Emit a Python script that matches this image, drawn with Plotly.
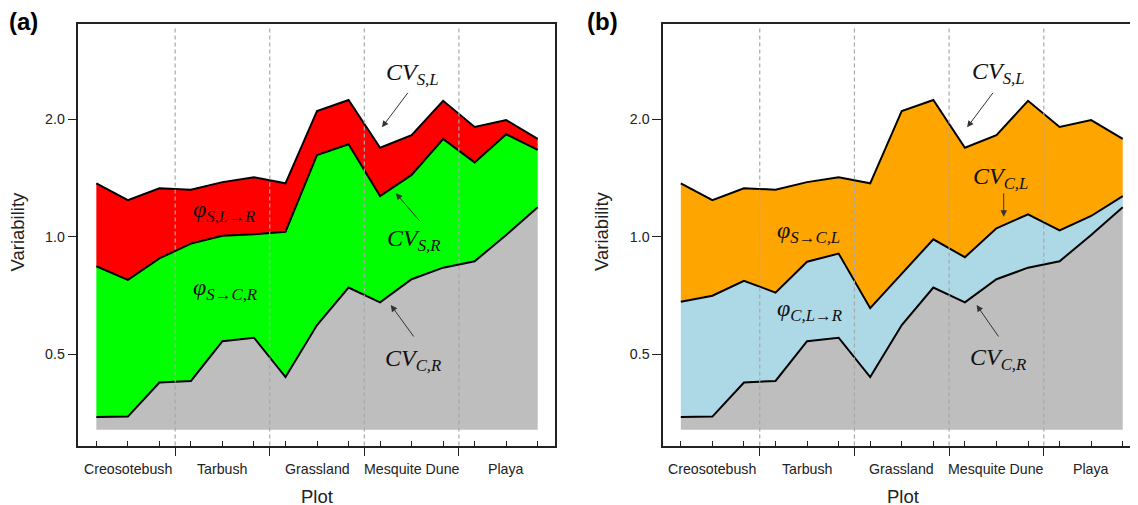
import plotly.graph_objects as go

# ---------------- data ----------------
PLOT_INDEX = list(range(1, 16))
GROUP_NAMES = ["Creosotebush", "Tarbush", "Grassland", "Mesquite Dune", "Playa"]
GROUP_CENTERS = [2, 5, 8, 11, 14]
GROUP_BOUNDS = [3.5, 6.5, 9.5, 12.5]

CV_S_L = [1.37, 1.24, 1.33, 1.32, 1.38, 1.42, 1.37, 2.10, 2.24, 1.69, 1.82, 2.23, 1.91, 1.99, 1.78]
CV_S_R = [0.84, 0.775, 0.88, 0.96, 1.005, 1.015, 1.03, 1.62, 1.725, 1.27, 1.44, 1.78, 1.55, 1.83, 1.67]
CV_C_R = [0.345, 0.346, 0.423, 0.427, 0.54, 0.551, 0.437, 0.594, 0.741, 0.679, 0.778, 0.833, 0.865, 1.01, 1.19]
CV_C_L = [0.681, 0.706, 0.771, 0.719, 0.863, 0.905, 0.656, 0.803, 0.985, 0.886, 1.051, 1.141, 1.038, 1.13, 1.271]
BASELINE = [0.32] * 15

Y_TICKS = [0.5, 1.0, 2.0]
Y_TICK_TEXT = ["0.5", "1.0", "2.0"]

GRAY = "#BEBEBE"
GREEN = "#00FF00"
RED = "#FF0000"
ORANGE = "#FFA500"
LIGHTBLUE = "#ADD8E6"

W, H = 1138, 505
OFF = 8  # page body margin


def fx(px):
    return (px - OFF) / W


def fy(py):
    return 1 - (py - OFF) / H


fig = go.Figure()


def add_panel(xa, ya, mid, mid_color, top_color):
    fig.add_trace(go.Scatter(x=PLOT_INDEX, y=BASELINE, mode="lines",
                             line=dict(width=0, color=GRAY), xaxis=xa, yaxis=ya,
                             hoverinfo="skip", showlegend=False))
    fig.add_trace(go.Scatter(x=PLOT_INDEX, y=CV_C_R, mode="lines", fill="tonexty",
                             fillcolor=GRAY, line=dict(width=2, color="black"),
                             xaxis=xa, yaxis=ya, showlegend=False))
    fig.add_trace(go.Scatter(x=PLOT_INDEX, y=mid, mode="lines", fill="tonexty",
                             fillcolor=mid_color, line=dict(width=2, color="black"),
                             xaxis=xa, yaxis=ya, showlegend=False))
    fig.add_trace(go.Scatter(x=PLOT_INDEX, y=CV_S_L, mode="lines", fill="tonexty",
                             fillcolor=top_color, line=dict(width=2, color="black"),
                             xaxis=xa, yaxis=ya, showlegend=False))


add_panel("x", "y", CV_S_R, GREEN, RED)
add_panel("x2", "y2", CV_C_L, LIGHTBLUE, ORANGE)

y_dom = [fy(445.5), fy(24)]
xa_dom = [fx(78.5), fx(556)]
xb_dom = [fx(664.3), 1.0]
xb_right = 15 + (W + OFF - 1124.7) / 31.6

axis_line = dict(showline=True, linecolor="#222", linewidth=1.5)
tickfont = dict(family="Liberation Sans, Arial, sans-serif", size=14.2, color="#222")

common_x = dict(
    tickmode="array", tickvals=GROUP_BOUNDS, ticktext=[""] * len(GROUP_BOUNDS),
    ticks="outside", ticklen=9, tickwidth=1.3, tickcolor="#222",
    showgrid=False, zeroline=False,
    minor=dict(tickmode="array", tickvals=PLOT_INDEX, ticks="inside", ticklen=5,
               tickwidth=1.2, tickcolor="#222", showgrid=False),
    **axis_line,
)
common_y = dict(
    type="log", range=[-0.535, 0.545], tickmode="array", tickvals=Y_TICKS,
    ticktext=Y_TICK_TEXT, ticks="outside", ticklen=9, tickwidth=1.3, tickcolor="#222",
    showgrid=False, zeroline=False, tickfont=tickfont, **axis_line,
)

fig.update_layout(
    width=W, height=H,
    margin=dict(l=0, r=0, t=0, b=0),
    paper_bgcolor="white", plot_bgcolor="white",
    showlegend=False,
    xaxis=dict(domain=xa_dom, range=[0.43, 15.55], mirror=True, anchor="y", **common_x),
    yaxis=dict(domain=y_dom, mirror=True, anchor="x", **common_y),
    xaxis2=dict(domain=xb_dom, range=[0.44, xb_right], mirror=True, anchor="y2", **common_x),
    yaxis2=dict(domain=y_dom, mirror=True, anchor="x2", **common_y),
)

# dashed group separators (above fills)
shapes = []
for xr, yr in (("x", "y domain"), ("x2", "y2 domain")):
    for b in GROUP_BOUNDS:
        shapes.append(dict(type="line", xref=xr, yref=yr, x0=b, x1=b, y0=0, y1=0.993,
                           layer="above", line=dict(color="#A8A8A8", width=1.2, dash="4px,3px")))
fig.update_layout(shapes=shapes)

ann = []
C = dict(xanchor="center", yanchor="middle", showarrow=False)
# category labels
for xr in ("x", "x2"):
    for c, name in zip(GROUP_CENTERS, GROUP_NAMES):
        ann.append(dict(x=c, y=fy(469), xref=xr, yref="paper", text=name,
                        font=dict(family="Liberation Sans, Arial, sans-serif",
                                  size=14.2, color="#222"), **C))
# axis titles and panel letters
title_font = dict(family="Liberation Sans, Arial, sans-serif", size=18.5, color="#222")
for xc, yc in ((318, 18.5), (905, 603)):
    ann.append(dict(x=fx(xc), y=fy(496), xref="paper", yref="paper", text="Plot",
                    font=title_font, **C))
    ann.append(dict(x=fx(yc), y=fy(231), xref="paper", yref="paper", text="Variability",
                    textangle=-90, font=title_font, **C))
for xc, lab in ((24, "(a)"), (604, "(b)")):
    ann.append(dict(x=fx(xc), y=fy(21.5), xref="paper", yref="paper",
                    text="<b>" + lab + "</b>",
                    font=dict(family="Liberation Sans, Arial, sans-serif", size=24, color="black"),
                    **C))

math_font = dict(family="Liberation Serif, Times New Roman, serif", size=24, color="#111")


def mtext(main, sub):
    return "<i>" + main + "</i><sub><i>" + sub + "</i></sub>"


labels = [
    ("x", "y", 5.04, 0.066, mtext("φ", "S,L→R")),
    ("x", "y", 5.07, -0.133, mtext("φ", "S→C,R")),
    ("x", "y", 11.02, 0.417, mtext("CV", "S,L")),
    ("x", "y", 11.08, -0.008, mtext("CV", "S,R")),
    ("x", "y", 11.06, -0.315, mtext("CV", "C,R")),
    ("x2", "y2", 5.05, 0.012, mtext("φ", "S→C,L")),
    ("x2", "y2", 5.08, -0.187, mtext("φ", "C,L→R")),
    ("x2", "y2", 11.05, 0.419, mtext("CV", "S,L")),
    ("x2", "y2", 11.13, 0.151, mtext("CV", "C,L")),
    ("x2", "y2", 11.06, -0.314, mtext("CV", "C,R")),
]
for xr, yr, x, y, t in labels:
    ann.append(dict(x=x, y=y, xref=xr, yref=yr, text=t, font=math_font, **C))

arrows = [
    ("x", "y", 10.06, 0.2803, 27, -36),
    ("x", "y", 10.50, 0.1112, 25, 29),
    ("x", "y", 10.34, -0.175, 24, 33),
    ("x2", "y2", 10.07, 0.2803, 27, -36),
    ("x2", "y2", 11.23, 0.0512, 0, -25),
    ("x2", "y2", 10.37, -0.175, 23, 33),
]
for xr, yr, x, y, ax, ay in arrows:
    ann.append(dict(x=x, y=y, xref=xr, yref=yr, ax=ax, ay=ay, text="", showarrow=True,
                    arrowhead=2, arrowsize=1.3, arrowwidth=1, arrowcolor="#333", standoff=0))

fig.update_layout(annotations=ann)

fig.write_html("out.html")
